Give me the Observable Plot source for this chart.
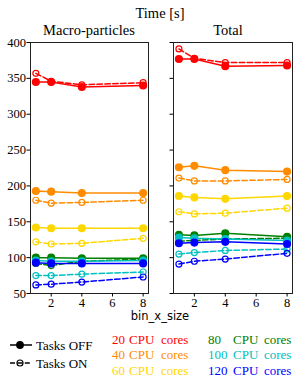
<!DOCTYPE html>
<html><head><meta charset="utf-8">
<script src="https://cdn.jsdelivr.net/npm/d3@7"></script>
<script src="https://cdn.jsdelivr.net/npm/@observablehq/plot@0.6"></script>
<style>
body{margin:0;background:#fff}
#wrap{position:relative;width:307px;height:379px;font-family:"Liberation Serif",serif;color:#000;overflow:hidden}
.lbl{position:absolute;transform:translate(-50%,-50%);line-height:1;white-space:nowrap}
.abs{position:absolute}
</style></head><body><div id="wrap"></div>
<script>
const binSizes = [1, 2, 4, 8];
const cores = [20, 40, 60, 80, 100, 120];
const coreColors = ["#ff0000", "#ff8c00", "#ffd700", "#008000", "#00c0c0", "#0000ff"];
const macroOff = [[345,345,338,340],[193,192,190,190],[142,141,141,141],[100,100,99,99],[96,95,95,96],[93,92,92,92]];
const macroOn  = [[357,346,341,344],[180,176,177,180],[122,119,120,127],[92,89,95,98],[75,75,77,80],[62,63,66,73]];
const totalOff = [[377,377,367,368],[226,228,222,220],[186,184,182,186],[132,131,134,129],[128,127,126,124],[120,121,122,119]];
const totalOn  = [[391,378,372,372],[211,207,207,209],[164,161,162,169],[123,124,126,127],[105,107,110,112],[91,95,98,106]];
const yTicks = [50, 100, 150, 200, 250, 300, 350, 400];
const xTicks = [2, 4, 6, 8];
const titleText = "Time [s]";
const panelTitles = ["Macro-particles", "Total"];
const xLabel = "bin_x_size";
const modeLabels = ["Tasks OFF", "Tasks ON"];

const wrap = document.getElementById("wrap");

function rowsFor(arr, mode) {
  const out = [];
  cores.forEach((c, i) => binSizes.forEach((b, j) => out.push({x: b, y: arr[i][j], core: c, mode})));
  return out;
}

function panel(off, on, {width, marginLeft, marginRight, showLabels}) {
  const offRows = rowsFor(off, "OFF");
  const onRows = rowsFor(on, "ON");
  const marks = [];
  cores.forEach(c => {
    const o = offRows.filter(d => d.core === c);
    const n = onRows.filter(d => d.core === c);
    marks.push(Plot.line(n, {x: "x", y: "y", stroke: "core", strokeWidth: 1.5, strokeDasharray: "5.5,2.4"}));
    marks.push(Plot.dot(n, {x: "x", y: "y", stroke: "core", fill: "none", r: 3, strokeWidth: 1.2}));
    marks.push(Plot.line(o, {x: "x", y: "y", stroke: "core", strokeWidth: 1.5}));
    marks.push(Plot.dot(o, {x: "x", y: "y", fill: "core", stroke: "core", r: 3.3}));
  });
  return Plot.plot({
    width, height: 330,
    marginTop: 42, marginBottom: 37, marginLeft, marginRight,
    style: {fontFamily: "Liberation Serif", fontSize: "12.5px", background: "transparent", color: "#000", overflow: "visible"},
    x: {domain: [0.65, 8.35]},
    y: {domain: [50, 400]},
    color: {type: "ordinal", domain: cores, range: coreColors},
    marks: [
      ...marks,
      Plot.frame({stroke: "#222", strokeWidth: 1}),
      Plot.axisX({ticks: xTicks, tickSize: 3.5, tickPadding: 1.5, label: null, fontSize: 12.5}),
      Plot.axisY({ticks: yTicks, tickSize: 3.5, tickPadding: 1, label: null, fontSize: 12.5,
        tickFormat: showLabels ? (d => String(d)) : (() => "")})
    ]
  });
}

const p1 = panel(macroOff, macroOn, {width: 150, marginLeft: 30, marginRight: 2, showLabels: true});
p1.classList.add("abs"); p1.style.left = "0px"; p1.style.top = "0px";
wrap.appendChild(p1);
const p2 = panel(totalOff, totalOn, {width: 157, marginLeft: 23, marginRight: 15, showLabels: false});
p2.classList.add("abs"); p2.style.left = "150px"; p2.style.top = "0px";
wrap.appendChild(p2);

function label(text, x, y, style) {
  const d = document.createElement("div");
  d.className = "lbl";
  d.textContent = text;
  d.style.left = x + "px"; d.style.top = y + "px";
  Object.assign(d.style, style || {});
  wrap.appendChild(d);
}
label(titleText, 160, 13, {fontSize: "14.5px"});
label(panelTitles[0], 89, 30, {fontSize: "14.5px"});
label(panelTitles[1], 228, 30, {fontSize: "14.5px"});
label(xLabel, 160, 317, {fontSize: "11.5px", fontFamily: "DejaVu Sans"});

// legend
const ns = "http://www.w3.org/2000/svg";
const lg = d3.create("svg").attr("width", 307).attr("height", 54)
  .style("position", "absolute").style("left", "0px").style("top", "325px")
  .style("font-family", "Liberation Serif");
[[20, 0], [38, 1]].forEach(([y, k]) => {
  const g = lg.append("g");
  g.append("line").attr("x1", 10).attr("x2", 32).attr("y1", y).attr("y2", y)
    .attr("stroke", "#000").attr("stroke-width", 1.5)
    .attr("stroke-dasharray", k ? "5,2.4" : null);
  g.append("circle").attr("cx", 20).attr("cy", y).attr("r", k ? 3 : 3.3)
    .attr("fill", k ? "none" : "#000").attr("stroke", "#000").attr("stroke-width", 1.2);
  g.append("text").attr("x", 36).attr("y", y + 4.5).attr("font-size", 13).attr("fill", "#000").text(modeLabels[k]);
});
cores.forEach((c, i) => {
  const col = Math.floor(i / 3), row = i % 3;
  const x0 = col ? 208 : 112;
  const y = 14 + row * 15.5 + 4.5;
  const t = lg.append("text").attr("y", y).attr("font-size", 13).attr("fill", coreColors[i]);
  t.append("tspan").attr("x", x0).text(String(c));
  t.append("tspan").attr("x", x0 + (col ? 25 : 17)).text("CPU");
  t.append("tspan").attr("x", x0 + (col ? 56 : 49)).text("cores");
});
wrap.appendChild(lg.node());
</script>
</body></html>
